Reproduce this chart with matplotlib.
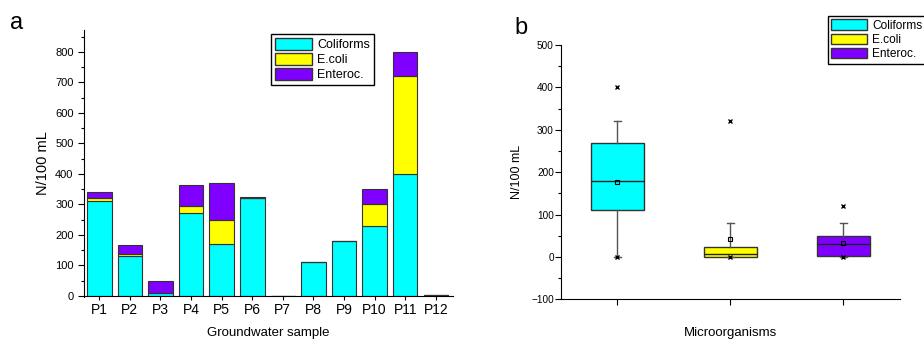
import matplotlib.pyplot as plt
import numpy as np
from matplotlib.patches import Patch
from matplotlib.ticker import MultipleLocator

plt.rcParams['font.family'] = ['Liberation Sans', 'DejaVu Sans']

# panel a: stacked values per sample
samples = ['P1', 'P2', 'P3', 'P4', 'P5', 'P6', 'P7', 'P8', 'P9', 'P10', 'P11', 'P12']
coliforms = [310, 130, 10, 270, 170, 320, 0, 110, 180, 230, 400, 1]
ecoli = [10, 8, 0, 23, 80, 0, 0, 0, 0, 70, 320, 0]
enteroc = [20, 30, 38, 70, 120, 3, 0, 2, 0, 50, 80, 1]

# panel b: box statistics
groups = ['Coliforms', 'E.coli', 'Enteroc.']
q1 = [110, 0, 2]
med = [180, 8, 30]
q3 = [270, 23, 50]
whislo = [0, 0, 0]
whishi = [320, 80, 80]
means = [177, 42, 33]
fliers = [[400, 0], [320, 0], [120, 0]]

colors = ['#00FFFF', '#FFFF00', '#7F00FF']

fig = plt.figure(figsize=(9.24, 3.41), dpi=100)

# ---- panel a ----
ax1 = fig.add_axes([0.0909, 0.129, 0.399, 0.783])
x = np.arange(len(samples))
c = np.array(coliforms)
e = np.array(ecoli)
n = np.array(enteroc)
kw = dict(width=0.8, edgecolor='#333333', linewidth=0.8)
ax1.bar(x, c, color=colors[0], **kw)
ax1.bar(x, e, bottom=c, color=colors[1], **kw)
ax1.bar(x, n, bottom=c + e, color=colors[2], **kw)
ax1.set_xlim(-0.5, 11.55)
ax1.set_ylim(-4, 872)
ax1.set_xticks(x)
ax1.set_xticklabels(samples, fontsize=11)
ax1.yaxis.set_major_locator(MultipleLocator(100))
ax1.yaxis.set_minor_locator(MultipleLocator(50))
ax1.tick_params(axis='y', labelsize=8, length=4, width=0.8)
ax1.tick_params(axis='y', which='minor', length=2.5, width=0.8)
ax1.tick_params(axis='x', length=3, width=0.8, pad=2)
for s in ['top', 'right']:
    ax1.spines[s].set_visible(False)
ax1.spines['left'].set_position(('data', -0.5))
ax1.spines['bottom'].set_position(('data', 0))
ax1.set_ylabel('N/100 mL', fontsize=10.5, labelpad=4)
ax1.set_xlabel('Groundwater sample', fontsize=9.5)
ax1.xaxis.set_label_coords(0.5, -0.112)
handles = [Patch(facecolor=col, edgecolor='#333333', label=g) for col, g in zip(colors, groups)]
ax1.legend(handles=handles, loc='upper left', bbox_to_anchor=(0.50, 0.995), fontsize=9,
           frameon=True, fancybox=False, edgecolor='black', framealpha=1,
           handlelength=3.0, handleheight=1.1, handletextpad=0.4, borderpad=0.3,
           labelspacing=0.15, borderaxespad=0.2)
fig.text(0.011, 0.915, 'a', fontsize=17)

# ---- panel b ----
ax2 = fig.add_axes([0.607, 0.122, 0.367, 0.746])
stats = []
for i in range(len(groups)):
    stats.append(dict(q1=q1[i], med=med[i], q3=q3[i], whislo=whislo[i],
                      whishi=whishi[i], mean=means[i], fliers=fliers[i], label=groups[i]))
bp = ax2.bxp(stats, positions=[1, 2, 3], widths=0.47, patch_artist=True,
             showmeans=True, showfliers=True,
             boxprops=dict(edgecolor='#333333', linewidth=1.0),
             medianprops=dict(color='#222222', linewidth=1.0),
             whiskerprops=dict(color='#555555', linewidth=1.0),
             capprops=dict(color='#555555', linewidth=1.0),
             meanprops=dict(marker='s', markerfacecolor='none', markeredgecolor='black',
                            markersize=3, markeredgewidth=0.8),
             flierprops=dict(marker='x', markeredgecolor='black', markersize=3.5,
                             markeredgewidth=1.0))
for box, col in zip(bp['boxes'], colors):
    box.set_facecolor(col)
for cap in bp['caps']:
    xd = cap.get_xdata()
    mid = (xd[0] + xd[1]) / 2
    cap.set_xdata([mid - 0.03, mid + 0.03])
ax2.set_xlim(0.5, 3.5)
ax2.set_ylim(-100, 500)
ax2.set_xticks([1, 2, 3])
ax2.set_xticklabels([])
ax2.yaxis.set_major_locator(MultipleLocator(100))
ax2.yaxis.set_minor_locator(MultipleLocator(50))
ax2.tick_params(axis='y', labelsize=7.2, length=4, width=0.8, pad=1)
ax2.tick_params(axis='y', which='minor', length=2.5, width=0.8)
ax2.tick_params(axis='x', length=4, width=0.8)
for s in ['top', 'right']:
    ax2.spines[s].set_visible(False)
ax2.set_ylabel('N/100 mL', fontsize=9, labelpad=6)
ax2.set_xlabel('Microorganisms', fontsize=9.5)
ax2.xaxis.set_label_coords(0.5, -0.108)
ax2.legend(handles=handles, loc='upper left', bbox_to_anchor=(0.787, 1.115), fontsize=8.6,
           frameon=True, fancybox=False, edgecolor='black', framealpha=1,
           handlelength=3.0, handleheight=1.0, handletextpad=0.4, borderpad=0.3,
           labelspacing=0.15, borderaxespad=0.0)
fig.text(0.557, 0.9, 'b', fontsize=17)

fig.savefig('out.png', dpi=100)
